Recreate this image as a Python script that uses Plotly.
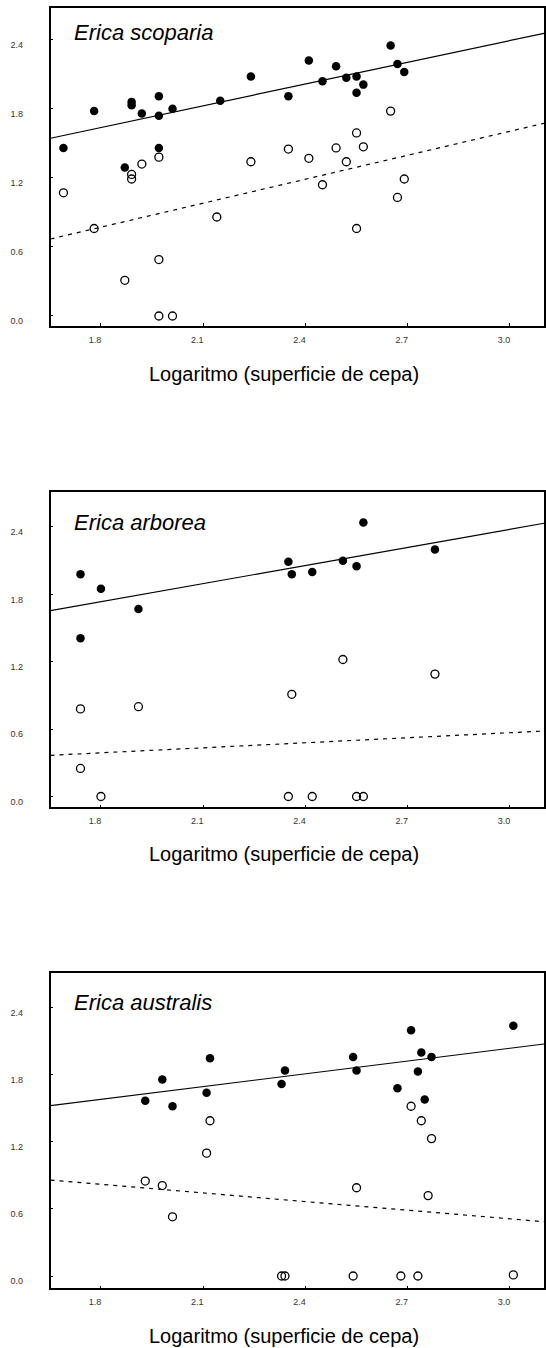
import plotly.graph_objects as go

# ---------------- data ----------------
species = ["Erica scoparia", "Erica arborea", "Erica australis"]
x_title = "Logaritmo (superficie de cepa)"
x_ticks = [1.8, 2.1, 2.4, 2.7, 3.0]
x_ticktext = ["1.8", "2.1", "2.4", "2.7", "3.0"]
y_ticks = [0.0, 0.6, 1.2, 1.8, 2.4]
y_ticktext = ["0.0", "0.6", "1.2", "1.8", "2.4"]

# Erica scoparia
scop_filled_x = [1.69, 1.78, 1.89, 1.89, 1.92, 1.97, 1.97, 2.01, 1.97, 1.87, 2.15, 2.24,
                 2.35, 2.41, 2.45, 2.49, 2.52, 2.55, 2.57, 2.55, 2.65, 2.67, 2.69]
scop_filled_y = [1.46, 1.78, 1.86, 1.83, 1.76, 1.91, 1.74, 1.80, 1.46, 1.29, 1.87, 2.08,
                 1.91, 2.22, 2.04, 2.17, 2.07, 2.08, 2.01, 1.94, 2.35, 2.19, 2.12]
scop_open_x = [2.65, 2.55, 2.35, 2.49, 2.57, 2.41, 2.52, 2.24, 1.97, 1.92, 1.89, 1.89,
               1.69, 2.69, 2.45, 2.67, 2.14, 1.78, 2.55, 1.97, 1.87, 1.97, 2.01]
scop_open_y = [1.78, 1.59, 1.45, 1.46, 1.47, 1.37, 1.34, 1.34, 1.38, 1.32, 1.23, 1.19,
               1.07, 1.19, 1.14, 1.03, 0.86, 0.76, 0.76, 0.49, 0.31, 0.0, 0.0]
scop_line_x = [1.652, 3.10]
scop_solid_y = [1.544, 2.456]
scop_dashed_y = [0.669, 1.674]

# Erica arborea
arb_filled_x = [1.74, 1.80, 1.91, 1.74, 2.35, 2.36, 2.42, 2.51, 2.55, 2.57, 2.78]
arb_filled_y = [1.98, 1.85, 1.67, 1.41, 2.09, 1.98, 2.00, 2.10, 2.05, 2.44, 2.20]
arb_open_x = [1.74, 1.91, 2.36, 2.51, 2.78, 1.74, 1.80, 2.35, 2.42, 2.55, 2.57]
arb_open_y = [0.78, 0.80, 0.91, 1.22, 1.09, 0.25, 0.0, 0.0, 0.0, 0.0, 0.0]
arb_line_x = [1.652, 3.10]
arb_solid_y = [1.655, 2.433]
arb_dashed_y = [0.367, 0.583]

# Erica australis
aus_filled_x = [3.01, 2.71, 2.74, 2.77, 2.73, 2.54, 2.55, 2.12, 2.34, 2.33, 1.98, 2.11,
                2.67, 1.93, 2.01, 2.75]
aus_filled_y = [2.24, 2.20, 2.00, 1.96, 1.83, 1.96, 1.84, 1.95, 1.84, 1.72, 1.76, 1.64,
                1.68, 1.57, 1.52, 1.58]
aus_open_x = [2.71, 2.74, 2.12, 2.77, 2.11, 1.93, 1.98, 2.55, 2.76, 2.01, 2.33, 2.34,
              2.54, 2.68, 2.73, 3.01]
aus_open_y = [1.52, 1.39, 1.39, 1.23, 1.10, 0.85, 0.81, 0.79, 0.72, 0.53, 0.0, 0.0,
              0.0, 0.0, 0.0, 0.01]
aus_line_x = [1.652, 3.10]
aus_solid_y = [1.525, 2.077]
aus_dashed_y = [0.859, 0.486]

panels = [
    (scop_filled_x, scop_filled_y, scop_open_x, scop_open_y, scop_line_x, scop_solid_y, scop_dashed_y),
    (arb_filled_x, arb_filled_y, arb_open_x, arb_open_y, arb_line_x, arb_solid_y, arb_dashed_y),
    (aus_filled_x, aus_filled_y, aus_open_x, aus_open_y, aus_line_x, aus_solid_y, aus_dashed_y),
]

# ---------------- layout geometry (pixels) ----------------
W, H = 546, 1348
x_dom = [50.5 / W, 544 / W]
x_range = [1.652, 3.10]
# (top px, bottom px, y range)
panel_geom = [
    (8.3, 326.0, [-0.087, 2.673]),
    (491.7, 807.3, [-0.096, 2.714]),
    (973.3, 1288.3, [-0.110, 2.710]),
]
title_y_px = [374, 854, 1336]
species_y_px = [33, 522, 1002]

fig = go.Figure()
layout = dict(
    width=W, height=H,
    margin=dict(l=0, r=0, t=0, b=0),
    paper_bgcolor="white", plot_bgcolor="white",
    showlegend=False,
    font=dict(family="Liberation Sans, Arial, sans-serif", color="black"),
)
annotations = []

for i, (fx, fy, ox, oy, lx, sy, dy) in enumerate(panels):
    n = "" if i == 0 else str(i + 1)
    xref, yref = "x" + n, "y" + n
    top, bot, yr = panel_geom[i]

    fig.add_trace(go.Scatter(x=lx, y=sy, mode="lines", xaxis=xref, yaxis=yref,
                             line=dict(color="black", width=1.2), hoverinfo="skip"))
    fig.add_trace(go.Scatter(x=lx, y=dy, mode="lines", xaxis=xref, yaxis=yref,
                             line=dict(color="black", width=1.2, dash="4px,5px"), hoverinfo="skip"))
    fig.add_trace(go.Scatter(x=fx, y=fy, mode="markers", xaxis=xref, yaxis=yref,
                             marker=dict(symbol="circle", size=8.5, color="black")))
    fig.add_trace(go.Scatter(x=ox, y=oy, mode="markers", xaxis=xref, yaxis=yref,
                             marker=dict(symbol="circle-open", size=8, color="black",
                                         line=dict(width=1.3, color="black"))))

    layout["xaxis" + n] = dict(
        domain=x_dom, range=x_range, anchor=yref,
        tickvals=x_ticks, ticktext=x_ticktext,
        ticks="inside", ticklen=3, tickcolor="black", tickwidth=1,
        showline=True, linecolor="black", linewidth=1.5, mirror=True,
        showgrid=False, zeroline=False,
        tickfont=dict(size=9, color="#333333"),
        ticklabelshift=-6, ticklabelstandoff=4,
    )
    layout["yaxis" + n] = dict(
        domain=[1 - bot / H, 1 - top / H], range=yr, anchor=xref,
        tickvals=y_ticks, ticktext=y_ticktext,
        ticks="inside", ticklen=3, tickcolor="black", tickwidth=1,
        showline=True, linecolor="black", linewidth=1.5, mirror=True,
        showgrid=False, zeroline=False,
        tickfont=dict(size=9, color="#333333"),
        ticklabelshift=5, ticklabelstandoff=24,
    )
    annotations.append(dict(
        text=species[i], xref="paper", yref="paper",
        x=72 / W, y=1 - species_y_px[i] / H, xanchor="left", yanchor="middle",
        showarrow=False, font=dict(size=22, style="italic", color="black"),
    ))
    annotations.append(dict(
        text=x_title, xref="paper", yref="paper",
        x=284 / W, y=1 - title_y_px[i] / H, xanchor="center", yanchor="middle",
        showarrow=False, font=dict(size=20, color="black"),
    ))

layout["annotations"] = annotations
fig.update_layout(**layout)
fig.write_html(
    "out.html",
    config={"displayModeBar": False},
    post_script="document.body.style.margin='0px';document.body.style.padding='0px';",
)
